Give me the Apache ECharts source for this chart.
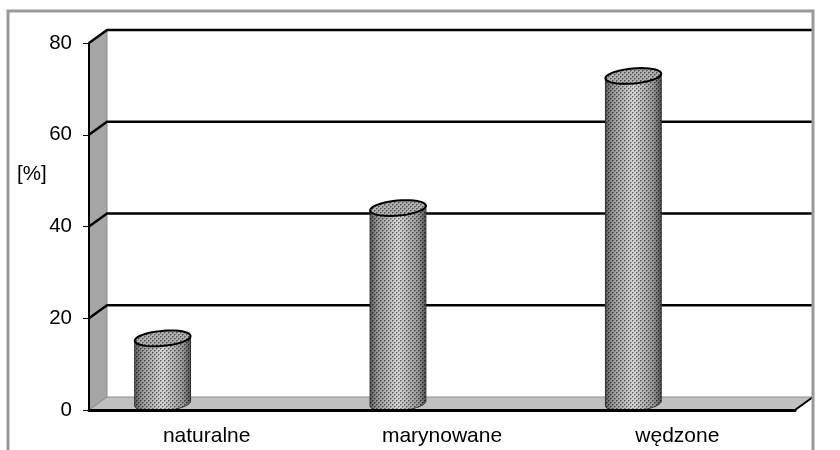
<!DOCTYPE html>
<html>
<head>
<meta charset="utf-8">
<style>html,body{margin:0;background:#fff}#chart{width:840px;height:450px}</style>
<script src="https://cdn.jsdelivr.net/npm/echarts@6/dist/echarts.min.js"></script>
</head>
<body>
<div id="chart"></div>
<script>
const categories = ['naturalne', 'marynowane', 'wędzone'];
const values = [14.2, 42.6, 71.4];
const yTicks = [0, 20, 40, 60, 80];

const DX = 18, DY = -13;      // przesuniecie "glebokosci" tylnej sciany
const FONT = '"Liberation Sans", Arial, sans-serif';

// deseniowe wypelnienie walca
const dots = document.createElement('canvas');
dots.width = dots.height = 4;
const dc = dots.getContext('2d');
dc.fillStyle = 'rgba(255,255,255,0.16)';
dc.fillRect(0, 0, 4, 4);
dc.clearRect(0, 0, 1, 1);
dc.clearRect(2, 2, 1, 1);
dc.fillStyle = 'rgba(0,0,0,0.5)';
dc.fillRect(0, 0, 1, 1);
dc.fillRect(2, 2, 1, 1);
dc.fillStyle = 'rgba(0,0,0,0.3)';
dc.fillRect(1, 0, 1, 1);
dc.fillRect(3, 2, 1, 1);
dc.fillRect(0, 1, 1, 1);
dc.fillRect(2, 3, 1, 1);

const bodyGrad = new echarts.graphic.LinearGradient(0, 0, 1, 0, [
  { offset: 0, color: '#3c3c3c' },
  { offset: 0.14, color: '#868686' },
  { offset: 0.5, color: '#d2d2d2' },
  { offset: 0.86, color: '#868686' },
  { offset: 1, color: '#303030' }
]);

const chart = echarts.init(document.getElementById('chart'));

// punkty pochylonej elipsy, od kata a0 do a1
function arc(cx, cy, rx, ry, a0, a1) {
  const pts = [], tilt = -0.09;
  for (let i = 0; i <= 40; i++) {
    const a = a0 + (a1 - a0) * i / 40;
    const x = rx * Math.cos(a), y = ry * Math.sin(a);
    pts.push([cx + x * Math.cos(tilt) - y * Math.sin(tilt), cy + x * Math.sin(tilt) + y * Math.cos(tilt)]);
  }
  return pts;
}

chart.setOption({
  animation: false,
  backgroundColor: '#fff',
  textStyle: { fontFamily: FONT },
  title: {
    text: '[%]', left: 12, top: 159,
    textStyle: { fontFamily: FONT, fontSize: 20.5, fontWeight: 'normal', color: '#000' }
  },
  grid: { left: 89, right: 45, top: 43, bottom: 40 },
  xAxis: {
    type: 'category',
    data: categories,
    axisLine: { lineStyle: { color: '#000', width: 3 } },
    axisTick: { length: 6, lineStyle: { color: '#000', width: 1 } },
    axisLabel: { color: '#000', fontFamily: FONT, fontSize: 21, margin: 16 },
    z: 5
  },
  yAxis: {
    type: 'value',
    min: 0,
    max: 80,
    interval: 20,
    splitLine: { show: false },
    axisLine: { show: true, lineStyle: { color: '#000', width: 2 } },
    axisTick: { show: true, length: 6, lineStyle: { color: '#000', width: 1 } },
    axisLabel: { color: '#000', fontFamily: FONT, fontSize: 20.5, margin: 17 },
    z: 5
  },
  series: [
    {
      // sciany i podloga
      type: 'custom',
      coordinateSystem: 'cartesian2d',
      silent: true,
      clip: false,
      z: 1,
      data: [0],
      renderItem: (params, api) => {
        const [x0, y0] = [params.coordSys.x, params.coordSys.y + params.coordSys.height];
        const [x1, y1] = [params.coordSys.x + params.coordSys.width, params.coordSys.y];
        return {
          type: 'group',
          children: [
            { type: 'polygon', shape: { points: [[x0, y0], [x0 + DX, y0 + DY], [x0 + DX, y1 + DY], [x0, y1]] },
              style: { fill: '#a6a6a6', stroke: '#8c8c8c', lineWidth: 1 } },
            { type: 'polygon', shape: { points: [[x0, y0], [x0 + DX, y0 + DY], [x1 + DX, y0 + DY], [x1, y0]] },
              style: { fill: '#c0c0c0', stroke: '#8c8c8c', lineWidth: 1 } },
            { type: 'line', shape: { x1: x1, y1: y0, x2: x1 + DX, y2: y0 + DY }, style: { stroke: '#000', lineWidth: 2 } }
          ]
        };
      }
    },
    {
      // linie siatki, zalamane na lewej scianie
      type: 'custom',
      coordinateSystem: 'cartesian2d',
      silent: true,
      clip: false,
      z: 2,
      encode: { y: 0 },
      data: yTicks.slice(1).map(v => [v]),
      renderItem: (params, api) => {
        const y = api.coord([0, api.value(0)])[1];
        const cs = params.coordSys;
        return {
          type: 'polyline',
          shape: { points: [[cs.x, y], [cs.x + DX, y + DY], [cs.x + cs.width + DX, y + DY]] },
          style: { fill: 'none', stroke: '#000', lineWidth: 2.4 }
        };
      }
    },
    {
      // walce
      type: 'custom',
      coordinateSystem: 'cartesian2d',
      silent: true,
      clip: false,
      z: 3,
      encode: { x: 0, y: 1 },
      data: values.map((v, i) => [i, v]),
      renderItem: (params, api) => {
        const band = api.size([1, 0])[0];
        const offset = -band * 0.187;
        const rx = band * 0.119, ry = 7.5;
        const top = api.coord([api.value(0), api.value(1)]);
        const base = api.coord([api.value(0), 0]);
        const cx = top[0] + offset, topY = top[1] + DY / 2, baseY = base[1] + DY / 2;
        const outline = arc(cx, topY, rx, ry, Math.PI, 0).concat(arc(cx, baseY, rx, ry, 0, Math.PI));
        const cap = arc(cx, topY, rx, ry, 0, Math.PI * 2);
        return {
          type: 'group',
          children: [
            { type: 'polygon', shape: { points: outline }, style: { fill: bodyGrad, stroke: '#222', lineWidth: 1 } },
            { type: 'polygon', shape: { points: outline }, style: { fill: { image: dots, repeat: 'repeat' } } },
            { type: 'polygon', shape: { points: cap }, style: { fill: '#a2a2a2' } },
            { type: 'polygon', shape: { points: cap }, style: { fill: { image: dots, repeat: 'repeat' }, stroke: '#000', lineWidth: 2 } }
          ]
        };
      }
    }
  ],
  graphic: [
    {
      // ramka wykresu, dol ucina kadr
      type: 'polyline',
      silent: true,
      z: 10,
      shape: { points: [[8, 450], [8, 11], [813, 11], [813, 450]] },
      style: { fill: 'none', stroke: '#999', lineWidth: 3 }
    }
  ]
});
</script>
</body>
</html>
